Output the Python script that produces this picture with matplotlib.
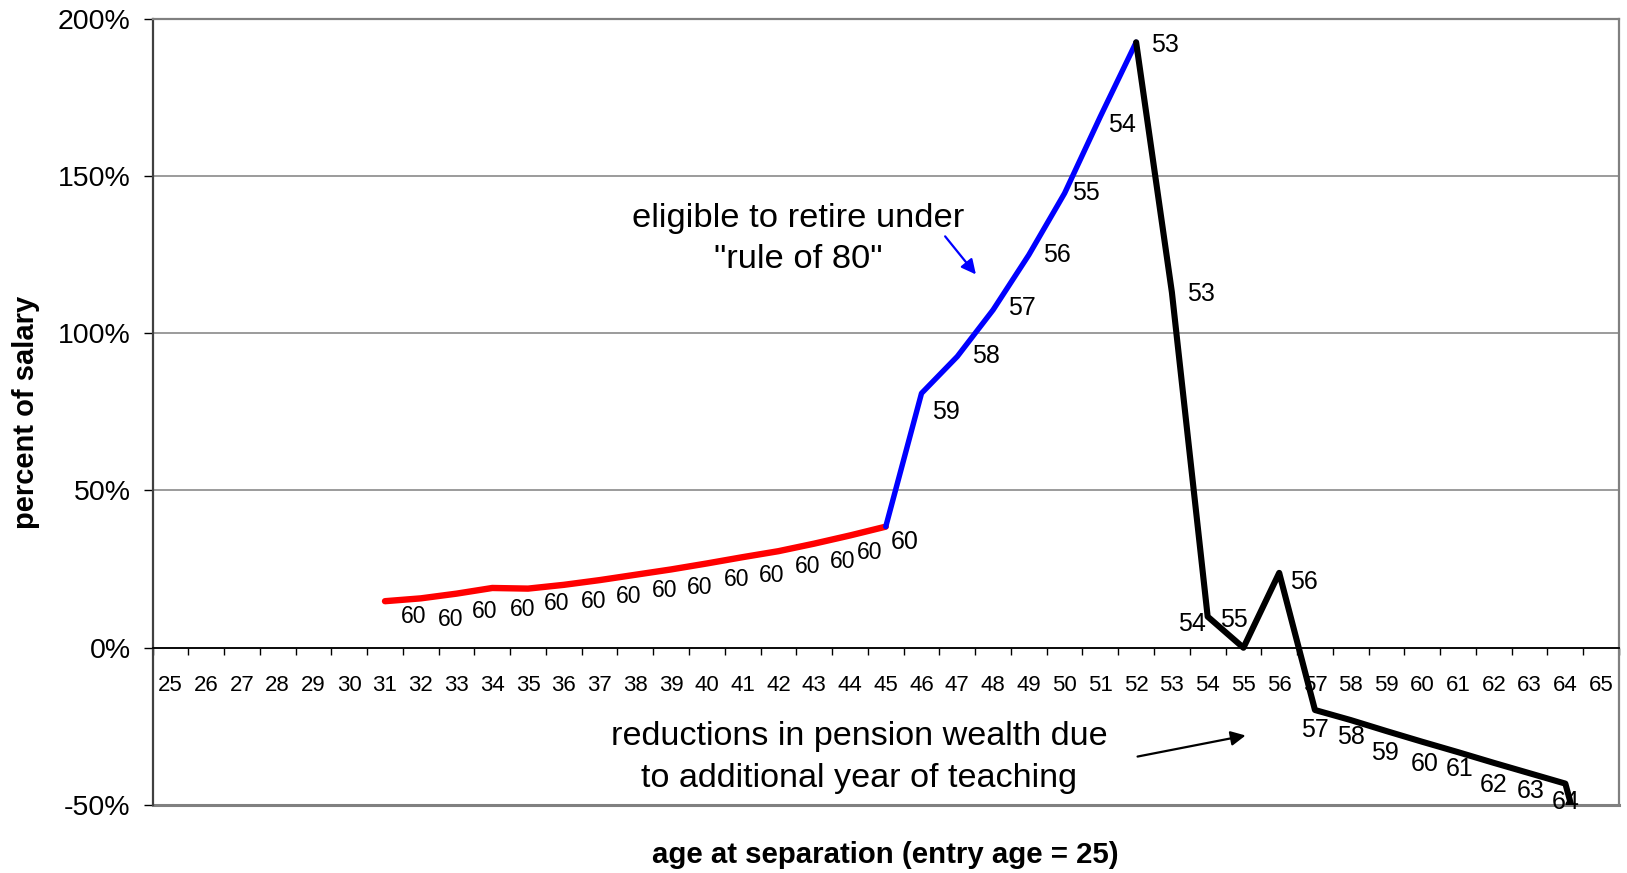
import matplotlib
matplotlib.use('Agg')
import matplotlib.pyplot as plt
import numpy as np

plt.rcParams['font.family'] = ['Liberation Sans', 'DejaVu Sans']

# ---------------- data ----------------
ages = list(range(25, 66))
tick_labels = [str(a) for a in ages]
ytick_vals = [-50, 0, 50, 100, 150, 200]
ytick_labels = [f'{v}%' for v in ytick_vals]

red_ages = list(range(31, 46))
red_vals = [14.8, 15.7, 17.2, 19.0, 18.8, 20.0, 21.5, 23.2, 24.9, 26.8, 28.8, 30.7, 33.1, 35.7, 38.5]
red_labels = [''] + ['60'] * 14

blue_ages = list(range(45, 53))
blue_vals = [38.5, 80.9, 92.6, 107.4, 124.9, 144.5, 168.9, 192.5]
blue_labels = ['60', '59', '58', '57', '56', '55', '54', '53']

black_ages = list(range(52, 66))
black_vals = [192.5, 113.0, 9.9, 0.0, 23.8, -19.8, -23.0, -26.5, -29.9, -33.2, -36.6, -39.9, -43.2, -85.0]
black_labels = ['', '53', '54', '55', '56', '57', '58', '59', '60', '61', '62', '63', '64', '']

# label offsets (points) - styling only
red_off = [(0, 0), (-5, -12.8), (-4.6, -18.6), (-5.3, -16.7), (-3.7, -15), (-5, -13.4), (-4.6, -15.1),
           (-4.9, -15.4), (-4.8, -14.9), (-5, -17.3), (-4.7, -16), (-5, -17.5), (-4.9, -16.2),
           (-5, -18.5), (-11.7, -18.7)]
blue_off = [(13.7, -11.2), (17.2, -13.4), (21, 0.7), (20.6, 1.5), (20.5, -0.4), (15.4, 0),
            (15.3, -5.8), (20.7, -1.7)]
black_off = [(0, 0), (20.7, -0.9), (-11.6, -5.2), (-6.7, 20.2), (18, -6.8), (0, -14.2), (0, -12.5),
             (-0.8, -15.5), (1.7, -16), (0.8, -12.4), (0, -16), (0.5, -12.8), (0, -13.2), (0, 0)]

# ---------------- figure ----------------
W, H = 1627, 873
fig = plt.figure(figsize=(W / 100, H / 100), dpi=100)
ax = fig.add_axes([152.5 / W, 1 - 805 / H, (1619 - 152.5) / W, (805 - 18.7) / H])

pos = {a: i for i, a in enumerate(ages)}


def xs(a_list):
    return [pos[a] for a in a_list]


lw_kw = dict(solid_joinstyle='round', solid_capstyle='round', zorder=3)
ax.plot(xs(red_ages), red_vals, color='#FF0000', lw=4.6, **lw_kw)
ax.plot(xs(blue_ages), blue_vals, color='#0000FF', lw=3.9, **lw_kw)
ax.plot(xs(black_ages), black_vals, color='black', lw=4.4, **lw_kw)

for a_list, vals, labs, offs, fs in [(red_ages, red_vals, red_labels, red_off, 16.5),
                                     (blue_ages, blue_vals, blue_labels, blue_off, 18),
                                     (black_ages, black_vals, black_labels, black_off, 18)]:
    for a, v, t, o in zip(a_list, vals, labs, offs):
        if t:
            ax.annotate(t, (pos[a], v), xytext=o, textcoords='offset points',
                        ha='center', va='center', fontsize=fs, zorder=2,
                        annotation_clip=False)

ax.set_xlim(-0.5, len(ages) - 0.5)
ax.set_ylim(-50, 200)

# y axis
ax.set_yticks(ytick_vals, ytick_labels)
ax.tick_params(axis='y', direction='out', length=6.8, width=1, pad=9, labelsize=20.5,
               color='black')
ax.grid(axis='y', color='#808080', lw=1.1)
ax.set_axisbelow(True)

# x axis on zero line
ax.spines['bottom'].set_position(('data', 0))
ax.spines['bottom'].set_color('black')
ax.spines['bottom'].set_linewidth(1.3)
ax.set_xticks(np.arange(-0.5, len(ages), 1.0))
ax.set_xticklabels([])
ax.set_xticks(range(len(ages)), tick_labels, minor=True)
ax.tick_params(axis='x', which='major', direction='out', length=5.3, width=1, color='black')
ax.tick_params(axis='x', which='minor', length=0, pad=19.5, labelsize=16)

ax.spines['left'].set_color('#404040')
ax.spines['left'].set_linewidth(1.6)
for s in ['top', 'right']:
    ax.spines[s].set_color('#808080')
    ax.spines[s].set_linewidth(1.6)
ax.axhline(-50, color='#808080', lw=2.2, clip_on=False, zorder=1)

# annotations
ax.text(17.55, 130.0, 'eligible to retire under\n"rule of 80"', ha='center', va='center',
        fontsize=24.8, linespacing=1.44)
ax.annotate('', xy=(22.52, 118.7), xytext=(21.66, 130.8),
            arrowprops=dict(arrowstyle='-|>', color='#0000FF', lw=1.6, mutation_scale=22,
                            shrinkA=0, shrinkB=0))
ax.text(19.25, -34.9, 'reductions in pension wealth due\nto additional year of teaching',
        ha='center', va='center', fontsize=24.6, linespacing=1.44)
ax.annotate('', xy=(30.06, -27.9), xytext=(27.04, -34.6),
            arrowprops=dict(arrowstyle='-|>', color='black', lw=1.6, mutation_scale=22,
                            shrinkA=0, shrinkB=0))

fig.text(26 / W, 1 - 412 / H, 'percent of salary', rotation=90, ha='center', va='center',
         fontsize=21, fontweight='bold')
fig.text(885.7 / W, 1 - 855 / H, 'age at separation (entry age = 25)', ha='center', va='center',
         fontsize=21.2, fontweight='bold')

fig.savefig('out.png', dpi=100, facecolor='white')
